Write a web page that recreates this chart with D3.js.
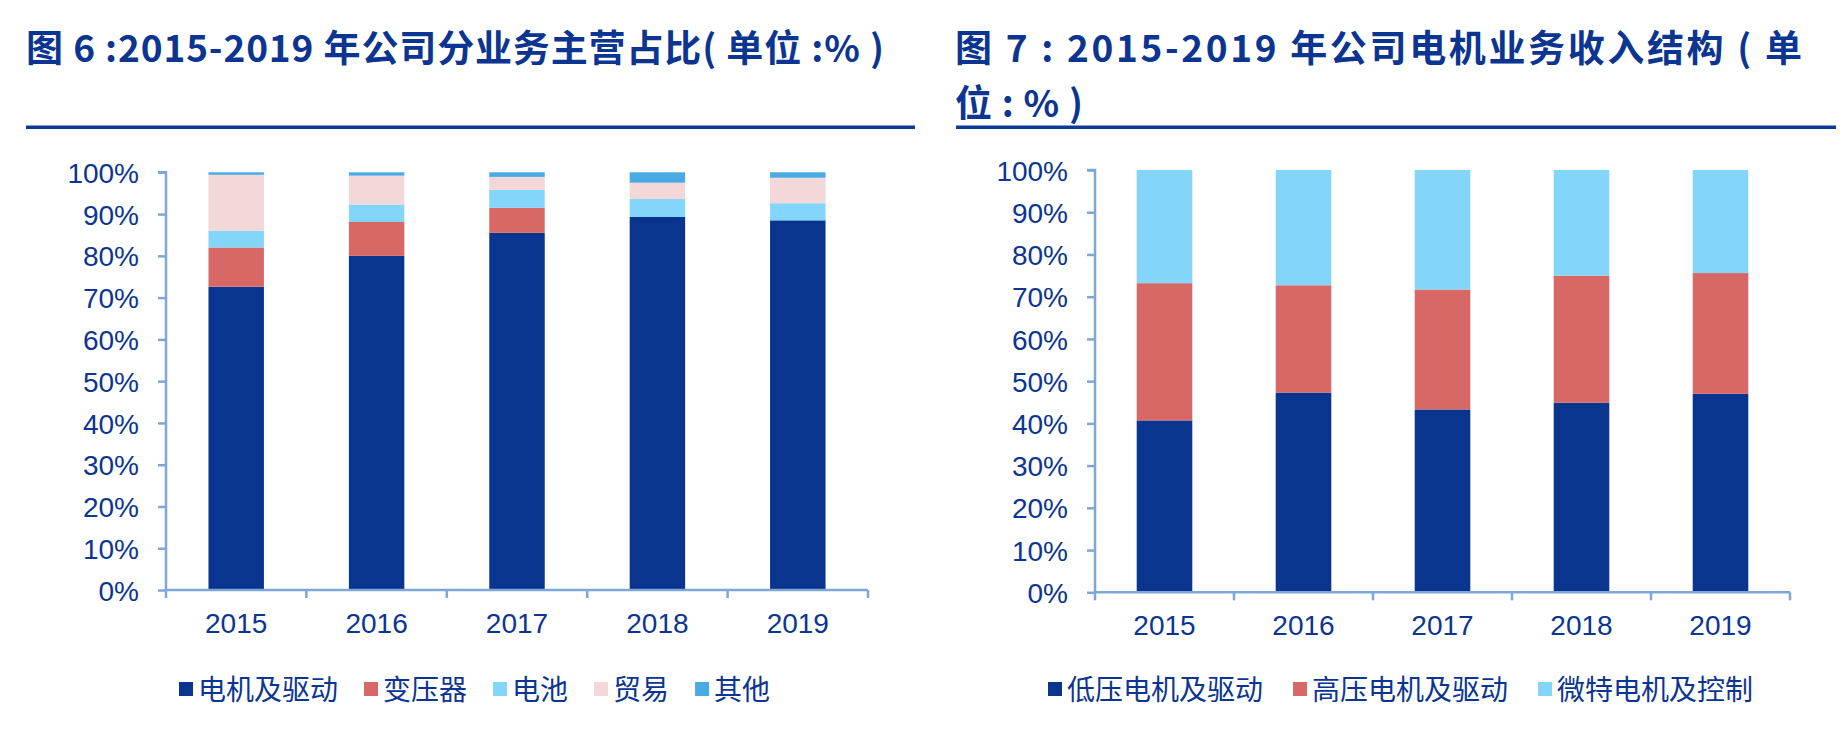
<!DOCTYPE html>
<html><head><meta charset="utf-8">
<script src="https://cdn.jsdelivr.net/npm/d3@7"></script>
<style>
html,body{margin:0;padding:0;background:#fff;}
svg{display:block;}
</style></head>
<body>
<svg id="c" width="1848" height="740"></svg>
<script>
// ---------- data ----------
const years = ["2015","2016","2017","2018","2019"];
const yTicks = [0,10,20,30,40,50,60,70,80,90,100];

// Chart 1: business mix (%)
const seriesNames1 = ["电机及驱动","变压器","电池","贸易","其他"];
const motor1   = [72.6, 80.0, 85.5, 89.3, 88.5];
const transf1  = [ 9.4,  8.1,  6.0,  0.0,  0.0];
const battery1 = [ 4.0,  4.2,  4.3,  4.3,  4.1];
const trade1   = [13.4,  6.9,  3.1,  3.9,  6.1];
const other1   = [ 0.6,  0.8,  1.1,  2.5,  1.3];

// Chart 2: motor revenue structure (%)
const seriesNames2 = ["低压电机及驱动","高压电机及驱动","微特电机及控制"];
const low2   = [40.7, 47.3, 43.3, 44.9, 47.0];
const high2  = [32.5, 25.4, 28.4, 30.1, 28.6];
const micro2 = [26.8, 27.3, 28.3, 25.0, 24.4];

const title1 = "图 6 :2015-2019 年公司分业务主营占比( 单位 :% )";
const title2a = "图  7 : 2015-2019  年公司电机业务收入结构 ( 单";
const title2b = "位 : % )";

// ---------- style ----------
const TXT = "#0b3591";
const AXIS = "#7ea6d8";
const colors1 = ["#0a358f","#d76866","#84d5fa","#f4d7d8","#4aaae5"];
const colors2 = ["#0a358f","#d76866","#84d5fa"];
const latin = "'Liberation Sans', Arial, sans-serif";
const cjk = "'Noto Sans CJK SC', 'Noto Sans', sans-serif";

const svg = d3.select("#c");

function drawChart(cfg){
  const g = svg.append("g");
  const x = d3.scaleBand().domain(years).range([cfg.x0, cfg.x1]).padding(0);
  const y = d3.scaleLinear().domain([0,100]).range([cfg.yb, cfg.yt]);

  const rows = years.map((yr,i)=>{
    const o = {year: yr};
    cfg.series.forEach((s,k)=>{ o["s"+k] = s[i]; });
    return o;
  });
  const keys = cfg.series.map((_,k)=>"s"+k);
  const stack = d3.stack().keys(keys)(rows);
  const bw = x.bandwidth()*cfg.barFrac;

  stack.forEach((layer,k)=>{
    g.append("g").selectAll("rect").data(layer).join("rect")
      .attr("x", d=> x(d.data.year) + (x.bandwidth()-bw)/2)
      .attr("width", bw)
      .attr("y", d=> y(Math.min(100,d[1])))
      .attr("height", d=> Math.max(0, y(d[0]) - y(Math.min(100,d[1]))))
      .attr("fill", cfg.colors[k]);
  });

  // y axis
  const ya = d3.axisLeft(y).tickValues(yTicks).tickFormat(d=>d+"%").tickSize(8).tickPadding(19);
  const yg = g.append("g").attr("transform",`translate(${cfg.x0},0)`).call(ya);
  yg.select(".domain").attr("stroke",AXIS).attr("stroke-width",2.5).attr("d",`M-8,${cfg.yt}H0V${cfg.yb}`);
  yg.selectAll(".tick line").attr("stroke",AXIS).attr("stroke-width",2.5);
  yg.selectAll(".tick text").attr("fill",TXT).style("font-family",latin).style("font-size","28px").attr("dy","0.36em");

  // x axis (ticks at category boundaries)
  const xg = g.append("g").attr("transform",`translate(0,${cfg.yb})`);
  xg.append("path").attr("d",`M${cfg.x0},0H${cfg.x1}`).attr("stroke",AXIS).attr("stroke-width",2.5).attr("fill","none");
  const bounds = years.map(yr=>x(yr)).concat([x(years[years.length-1])+x.bandwidth()]);
  xg.selectAll("line.b").data(bounds).join("line").attr("class","b")
    .attr("x1",d=>d).attr("x2",d=>d).attr("y1",0).attr("y2",8)
    .attr("stroke",AXIS).attr("stroke-width",2.5);
  xg.selectAll("text.xl").data(years).join("text").attr("class","xl")
    .attr("x", d=> x(d)+x.bandwidth()/2).attr("y", cfg.xLabelY - cfg.yb)
    .attr("text-anchor","middle").attr("fill",TXT)
    .style("font-family",latin).style("font-size","28px").text(d=>d);

  // legend
  const lg = g.append("g");
  let lx = cfg.legendX;
  cfg.names.forEach((n,k)=>{
    lg.append("rect").attr("x",lx).attr("y",cfg.legendY-8).attr("width",14).attr("height",14).attr("fill",cfg.colors[k]);
    const t = lg.append("text").attr("x",lx+19).attr("y",cfg.legendY).attr("dy","0.36em")
      .attr("fill",TXT).style("font-family",cjk).style("font-size","28px").text(n);
    lx += 19 + t.node().getComputedTextLength() + cfg.legendGap;
  });
}

drawChart({x0:166, x1:868, yt:172.3, yb:590, barFrac:0.395, series:[motor1,transf1,battery1,trade1,other1],
  colors:colors1, names:seriesNames1, xLabelY:633, legendX:179, legendY:690, legendGap:26});
drawChart({x0:1095, x1:1790, yt:170, yb:592.3, barFrac:0.40, series:[low2,high2,micro2],
  colors:colors2, names:seriesNames2, xLabelY:635, legendX:1048, legendY:690, legendGap:30});

// titles
function title(txt, x, y, len){
  const t = svg.append("text").attr("x",x).attr("y",y).attr("fill",TXT)
    .style("font-family",cjk).style("font-weight","bold").style("font-size","37px").text(txt);
  if(len) t.attr("textLength",len).attr("lengthAdjust","spacing");
}
title(title1, 26, 62, 858);
title(title2a, 955, 62, 847);
title(title2b, 955, 117, 128);
svg.append("rect").attr("x",26).attr("y",125.5).attr("width",889).attr("height",3.5).attr("fill","#0c3a95");
svg.append("rect").attr("x",956).attr("y",125.5).attr("width",880).attr("height",3.5).attr("fill","#0c3a95");
</script>
</body></html>
